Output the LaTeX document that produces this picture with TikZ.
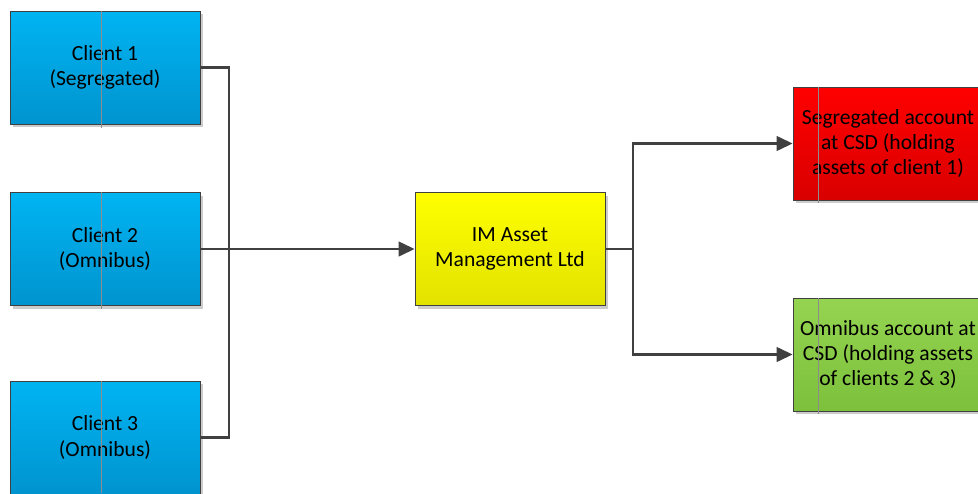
\documentclass[tikz,border=0pt]{standalone}
\usepackage{fontspec}
\setmainfont{Carlito}
\usetikzlibrary{arrows.meta,shadows}

\definecolor{clienttop}{HTML}{00B4F2}
\definecolor{clientbot}{HTML}{0094CF}
\definecolor{imtop}{HTML}{FFFF00}
\definecolor{imbot}{HTML}{E2E200}
\definecolor{segtop}{HTML}{FF0000}
\definecolor{segbot}{HTML}{D90000}
\definecolor{omnitop}{HTML}{94D450}
\definecolor{omnibot}{HTML}{7CC03C}
\definecolor{wire}{HTML}{404040}

\begin{document}
\begin{tikzpicture}[
  x=0.75pt,y=-0.75pt,
  party/.style={draw=wire,line width=.6pt,minimum width=142.5pt,minimum height=84.75pt,align=center,
    font=\fontsize{16.2}{18.9}\selectfont,
    drop shadow={shadow xshift=2.5pt,shadow yshift=-2.5pt,fill=black!20,opacity=1}},
  client/.style={party,top color=clienttop,bottom color=clientbot},
  manager/.style={party,top color=imtop,bottom color=imbot},
  segregated/.style={party,top color=segtop,bottom color=segbot},
  omnibus/.style={party,top color=omnitop,bottom color=omnibot},
  link/.style={line width=1.7pt,draw=wire},
  flow/.style={link,-{Triangle[length=12pt,width=11pt]}},
  guide/.style={draw=black!45,line width=.4pt}
]
\useasboundingbox (0,0) rectangle (978,493);

\node[client] (clientone) at (105,67.5) {Client 1\\(Segregated)};
\node[client] (clienttwo) at (105,249) {Client 2\\(Omnibus)};
\node[client] (clientthree) at (105,437.5) {Client 3\\(Omnibus)};
\node[manager] (imltd) at (510,249) {IM Asset\\Management Ltd};
\node[segregated] (segacct) at (888,143.5) {Segregated account\\at CSD (holding\\assets of client 1)};
\node[omnibus] (omniacct) at (888,354.5) {Omnibus account at\\CSD (holding assets\\of clients 2 \& 3)};

% faint guide lines left in the boxes
\draw[guide] (101,11) -- (101,128);
\draw[guide] (101,192) -- (101,309);
\draw[guide] (101,381) -- (101,493);
\draw[guide] (818,87) -- (818,203);
\draw[guide] (818,298) -- (818,414);

\coordinate (merge) at (229,249);
\coordinate (split) at (633,249);
\draw[link] (clientone.east) -| (merge);
\draw[link] (clientthree.east) -| (merge);
\draw[flow] (clienttwo.east) -- (imltd.west);
\draw[link] (imltd.east) -- (split);
\draw[flow] (split) |- (segacct.west);
\draw[flow] (split) |- (omniacct.west);
\end{tikzpicture}
\end{document}
